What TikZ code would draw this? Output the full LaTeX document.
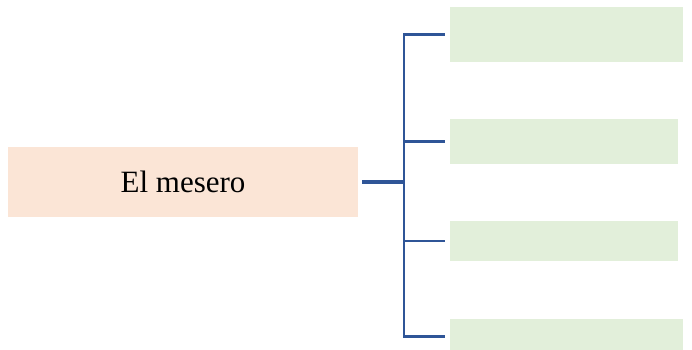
\documentclass[tikz,border=0pt]{standalone}
\usepackage{fontspec}
\setmainfont{Liberation Serif}
\usepackage{tikz}

\definecolor{peach}{RGB}{251,229,214}
\definecolor{lightgreen}{RGB}{226,239,218}
\definecolor{linkblue}{RGB}{47,85,151}

\begin{document}
\begin{tikzpicture}[x=1pt, y=-1pt, line width=2.2pt,
  topic/.style={fill=peach, inner sep=0pt, minimum width=350pt, minimum height=70pt, font=\fontsize{31}{37}\selectfont},
  leaf/.style={fill=lightgreen, inner sep=0pt},
  link/.style={draw=linkblue, line cap=rect}]

\useasboundingbox (0,0) rectangle (692,349);

\node[topic] (mesero) at (183,182) {El mesero};

\node[leaf, minimum width=233pt, minimum height=55pt] (b1) at (566,34.5) {};
\node[leaf, minimum width=228.5pt, minimum height=45pt] (b2) at (563.75,141.5) {};
\node[leaf, minimum width=228.5pt, minimum height=40pt] (b3) at (563.75,241) {};
\node[leaf, minimum width=233pt, minimum height=36pt] (b4) at (566,336.5) {};

\coordinate (j) at (404,182);

\draw[link, line width=3.5pt, line cap=butt] ([xshift=3pt]mesero.east) -- (j);
\draw[link] (b1.west -| j) -- (b4.west -| j);
\draw[link, line cap=butt] (b1.west -| j) -- ([xshift=-3pt]b1.west);
\draw[link, line cap=butt] (b2.west -| j) -- ([xshift=-3pt]b2.west);
\draw[link, line cap=butt] (b3.west -| j) -- ([xshift=-3pt]b3.west);
\draw[link, line cap=butt] (b4.west -| j) -- ([xshift=-3pt]b4.west);

\end{tikzpicture}
\end{document}
